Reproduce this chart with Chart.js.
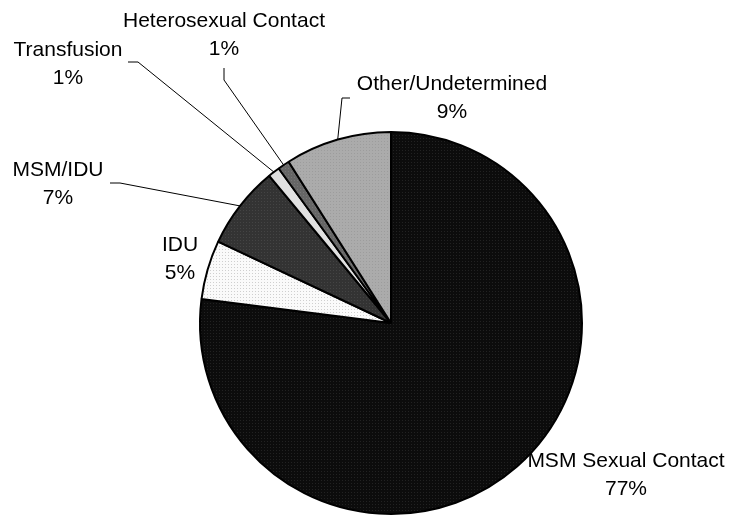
<!DOCTYPE html>
<html>
<head>
<meta charset="utf-8">
<script src="https://cdn.jsdelivr.net/npm/chart.js@4/dist/chart.umd.min.js"></script>
<style>
  html, body { margin: 0; padding: 0; background: #fff; }
  #wrap { width: 732px; height: 522px; }
</style>
</head>
<body>
<div id="wrap"><canvas id="pie" width="732" height="522"></canvas></div>
<script>
// data, clockwise from 12 o'clock
var categories = ['MSM Sexual Contact', 'IDU', 'MSM/IDU', 'Transfusion', 'Heterosexual Contact', 'Other/Undetermined'];
var percents = [77, 5, 7, 1, 1, 9];
var pctLabels = ['77%', '5%', '7%', '1%', '1%', '9%'];

// label placement (text centre x, first line y) and whether a leader line is drawn
var labelPos = [
    {x: 626, y: 461, leader: null},
    {x: 180, y: 245, leader: null},
    {x: 58,  y: 170, leader: [[110, 183], [120, 183]]},
    {x: 68,  y: 50,  leader: [[128, 62], [138, 62]]},
    {x: 224, y: 21,  leader: [[224, 68], [224, 80]]},
    {x: 452, y: 84,  leader: [[350, 98], [342, 98]]}
];

function dotPattern(bg, dot){
    var c = document.createElement('canvas');
    c.width = 3; c.height = 3;
    var g = c.getContext('2d');
    g.fillStyle = bg; g.fillRect(0, 0, 3, 3);
    g.fillStyle = dot; g.fillRect(0, 0, 1, 1);
    return g.createPattern(c, 'repeat');
}

var ctx = document.getElementById('pie').getContext('2d');
var fills = [
    dotPattern('#0c0c0c', '#222222'),
    dotPattern('#fafafa', '#cfcfcf'),
    dotPattern('#333333', '#444444'),
    '#e0e0e0',
    dotPattern('#666666', '#777777'),
    dotPattern('#ababab', '#9c9c9c')
];

var labelPlugin = {
    id: 'sliceLabels',
    afterDraw: function(chart){
        var c = chart.ctx;
        var arcs = chart.getDatasetMeta(0).data;
        c.save();
        c.font = '21px "Liberation Sans", Arial, sans-serif';
        c.fillStyle = '#000';
        c.textAlign = 'center';
        c.textBaseline = 'middle';
        arcs.forEach(function(arc, i){
            var p = labelPos[i];
            c.fillText(categories[i], p.x, p.y);
            c.fillText(pctLabels[i], p.x, p.y + 28);
            if(p.leader){
                var mid = (arc.startAngle + arc.endAngle) / 2;
                var ex = arc.x + Math.cos(mid) * arc.outerRadius;
                var ey = arc.y + Math.sin(mid) * arc.outerRadius;
                c.beginPath();
                c.strokeStyle = '#000';
                c.lineWidth = 1;
                c.moveTo(p.leader[0][0], p.leader[0][1]);
                c.lineTo(p.leader[1][0], p.leader[1][1]);
                c.lineTo(ex, ey);
                c.stroke();
            }
        });
        c.restore();
    }
};

new Chart(ctx, {
    type: 'pie',
    data: {
        labels: categories,
        datasets: [{
            data: percents,
            backgroundColor: fills,
            borderColor: '#000',
            borderWidth: 2
        }]
    },
    options: {
        responsive: false,
        animation: false,
        layout: { padding: { left: 199, right: 149, top: 131, bottom: 7 } },
        plugins: { legend: { display: false }, tooltip: { enabled: false } }
    },
    plugins: [labelPlugin]
});
</script>
</body>
</html>
